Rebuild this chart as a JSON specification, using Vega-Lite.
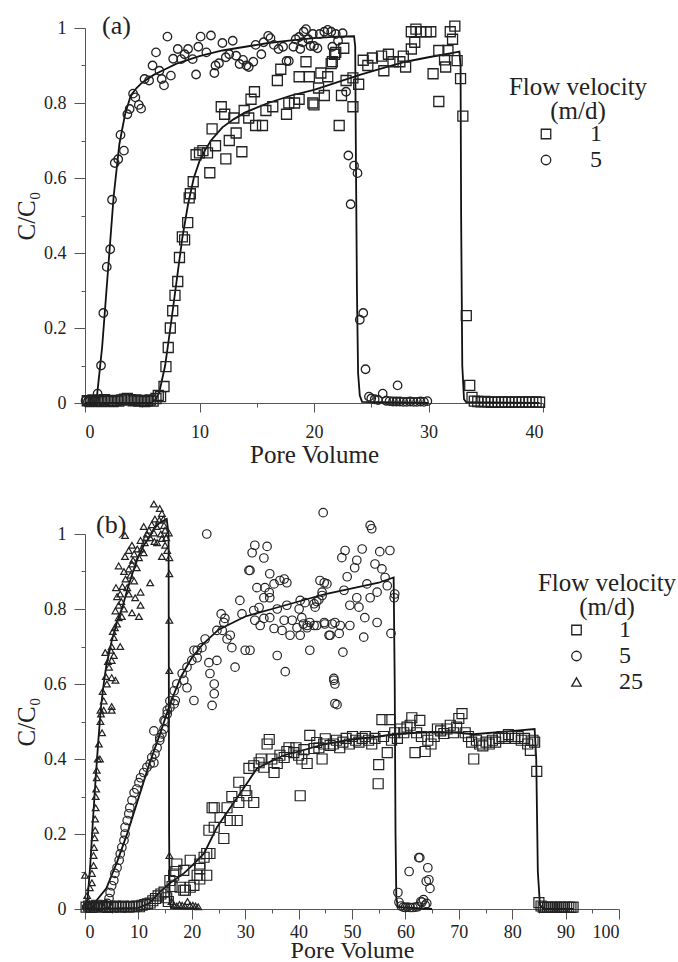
{
  "$schema": "https://vega.github.io/schema/vega-lite/v6.json",
  "padding": {"left": 14, "top": 12, "right": 0, "bottom": 0},
  "spacing": 31,
  "config": {
    "font": "Liberation Serif",
    "view": {"stroke": null},
    "axis": {"grid": false, "domainColor": "#555", "tickColor": "#555", "labelFont": "Liberation Serif", "labelFontSize": 18, "labelColor": "#222", "titleFont": "Liberation Serif", "titleFontSize": 25, "titleFontWeight": "normal", "titleColor": "#222"},
    "legend": {"titleFont": "Liberation Serif", "titleFontSize": 25, "titleFontWeight": "normal", "titleColor": "#222", "titleAlign": "center", "titleAnchor": "middle", "titleLineHeight": 24, "labelFont": "Liberation Serif", "labelFontSize": 24, "labelColor": "#222", "symbolStrokeWidth": 1.3, "symbolSize": 90, "rowPadding": 2, "titlePadding": -2, "symbolStrokeColor": "#222", "symbolFillColor": "transparent"},
    "title": {"font": "Liberation Serif", "fontSize": 26, "fontWeight": "normal", "color": "#222"}
  },
  "resolve": {"scale": {"shape": "independent", "x": "independent", "y": "independent"}, "legend": {"shape": "independent"}},
  "datasets": {
    "a_model": [
      {"v":"5","x":0,"y":0},{"v":"5","x":0.9,"y":0},{"v":"5","x":1.0,"y":0.005},{"v":"5","x":1.5,"y":0.15},{"v":"5","x":2.0,"y":0.35},{"v":"5","x":2.5,"y":0.55},{"v":"5","x":3.0,"y":0.69},{"v":"5","x":3.5,"y":0.77},{"v":"5","x":4.0,"y":0.82},{"v":"5","x":4.5,"y":0.84},{"v":"5","x":5,"y":0.855},{"v":"5","x":6,"y":0.875},{"v":"5","x":7,"y":0.89},{"v":"5","x":8,"y":0.905},{"v":"5","x":10,"y":0.925},{"v":"5","x":12,"y":0.94},{"v":"5","x":14,"y":0.95},{"v":"5","x":16,"y":0.96},{"v":"5","x":18,"y":0.967},{"v":"5","x":20,"y":0.973},{"v":"5","x":22,"y":0.977},{"v":"5","x":23.5,"y":0.978},{"v":"5","x":23.6,"y":0.95},{"v":"5","x":23.65,"y":0.7},{"v":"5","x":23.75,"y":0.3},{"v":"5","x":23.85,"y":0.08},{"v":"5","x":24.0,"y":0.02},{"v":"5","x":24.2,"y":0.003},{"v":"5","x":30,"y":0},
      {"v":"1","x":0,"y":0},{"v":"1","x":5.8,"y":0},{"v":"1","x":6.2,"y":0.01},{"v":"1","x":6.5,"y":0.03},{"v":"1","x":7,"y":0.1},{"v":"1","x":7.5,"y":0.21},{"v":"1","x":8,"y":0.325},{"v":"1","x":8.5,"y":0.44},{"v":"1","x":9,"y":0.53},{"v":"1","x":9.5,"y":0.6},{"v":"1","x":10,"y":0.645},{"v":"1","x":10.5,"y":0.675},{"v":"1","x":11,"y":0.7},{"v":"1","x":12,"y":0.735},{"v":"1","x":13,"y":0.757},{"v":"1","x":14,"y":0.775},{"v":"1","x":16,"y":0.8},{"v":"1","x":18,"y":0.82},{"v":"1","x":20,"y":0.835},{"v":"1","x":22,"y":0.855},{"v":"1","x":24,"y":0.875},{"v":"1","x":26,"y":0.893},{"v":"1","x":28,"y":0.91},{"v":"1","x":30,"y":0.922},{"v":"1","x":32,"y":0.933},{"v":"1","x":32.7,"y":0.937},{"v":"1","x":32.8,"y":0.9},{"v":"1","x":32.85,"y":0.5},{"v":"1","x":32.95,"y":0.1},{"v":"1","x":33.1,"y":0.01},{"v":"1","x":33.3,"y":0.002},{"v":"1","x":39.7,"y":0}
    ],
    "a_pts": [
      {"v":"1","x":0.2,"y":0.006},{"v":"1","x":0.45,"y":0.004},{"v":"1","x":0.7,"y":0.008},{"v":"1","x":0.95,"y":0.005},{"v":"1","x":1.2,"y":0.007},{"v":"1","x":1.45,"y":0.004},{"v":"1","x":1.7,"y":0.009},{"v":"1","x":1.95,"y":0.005},{"v":"1","x":2.2,"y":0.006},{"v":"1","x":2.45,"y":0.004},{"v":"1","x":2.7,"y":0.007},{"v":"1","x":2.95,"y":0.005},{"v":"1","x":3.2,"y":0.008},{"v":"1","x":3.45,"y":0.01},{"v":"1","x":3.7,"y":0.012},{"v":"1","x":3.95,"y":0.009},{"v":"1","x":4.2,"y":0.006},{"v":"1","x":4.45,"y":0.008},{"v":"1","x":4.7,"y":0.005},{"v":"1","x":4.95,"y":0.007},{"v":"1","x":5.2,"y":0.004},{"v":"1","x":5.45,"y":0.006},{"v":"1","x":5.7,"y":0.008},{"v":"1","x":5.95,"y":0.005},
      {"v":"1","x":6.2,"y":0.012},{"v":"1","x":6.4,"y":0.02},{"v":"1","x":6.6,"y":0.017},{"v":"1","x":6.9,"y":0.044},{"v":"1","x":7.07,"y":0.097},{"v":"1","x":7.27,"y":0.148},{"v":"1","x":7.45,"y":0.2},{"v":"1","x":7.66,"y":0.246},{"v":"1","x":7.86,"y":0.287},{"v":"1","x":8.1,"y":0.324},{"v":"1","x":8.25,"y":0.388},{"v":"1","x":8.5,"y":0.443},{"v":"1","x":8.7,"y":0.435},{"v":"1","x":8.97,"y":0.481},{"v":"1","x":9.1,"y":0.547},{"v":"1","x":9.2,"y":0.558},{"v":"1","x":9.45,"y":0.59},{"v":"1","x":9.7,"y":0.662},{"v":"1","x":10.0,"y":0.667},{"v":"1","x":10.3,"y":0.673},{"v":"1","x":10.7,"y":0.667},{"v":"1","x":10.9,"y":0.614},{"v":"1","x":11.1,"y":0.731},{"v":"1","x":11.4,"y":0.686},{"v":"1","x":11.9,"y":0.79},{"v":"1","x":12.2,"y":0.77},{"v":"1","x":12.3,"y":0.651},{"v":"1","x":12.6,"y":0.7},{"v":"1","x":13.0,"y":0.76},{"v":"1","x":13.2,"y":0.72},{"v":"1","x":13.7,"y":0.67},{"v":"1","x":13.9,"y":0.78},{"v":"1","x":14.3,"y":0.76},{"v":"1","x":14.5,"y":0.81},{"v":"1","x":14.8,"y":0.83},{"v":"1","x":14.9,"y":0.74},{"v":"1","x":15.5,"y":0.74},{"v":"1","x":15.8,"y":0.78},{"v":"1","x":16.4,"y":0.79},{"v":"1","x":16.8,"y":0.86},{"v":"1","x":17.1,"y":0.89},{"v":"1","x":17.6,"y":0.77},{"v":"1","x":17.8,"y":0.8},{"v":"1","x":18.3,"y":0.8},{"v":"1","x":18.7,"y":0.87},{"v":"1","x":18.7,"y":0.81},{"v":"1","x":19.3,"y":0.91},{"v":"1","x":19.6,"y":0.87},{"v":"1","x":19.9,"y":0.8},{"v":"1","x":20.0,"y":0.795},{"v":"1","x":20.4,"y":0.84},{"v":"1","x":20.6,"y":0.88},{"v":"1","x":20.9,"y":0.82},{"v":"1","x":21.2,"y":0.87},{"v":"1","x":21.5,"y":0.905},{"v":"1","x":21.6,"y":0.91},{"v":"1","x":21.8,"y":0.93},{"v":"1","x":21.9,"y":0.935},{"v":"1","x":22.2,"y":0.74},{"v":"1","x":22.4,"y":0.82},{"v":"1","x":22.6,"y":0.946},{"v":"1","x":22.8,"y":0.86},{"v":"1","x":23.4,"y":0.867},{"v":"1","x":23.4,"y":0.79},{"v":"1","x":23.9,"y":0.85},{"v":"1","x":24.3,"y":0.914},{"v":"1","x":24.7,"y":0.9},{"v":"1","x":25.1,"y":0.92},{"v":"1","x":25.9,"y":0.925},{"v":"1","x":26.1,"y":0.886},{"v":"1","x":26.5,"y":0.93},{"v":"1","x":26.9,"y":0.91},{"v":"1","x":27.5,"y":0.91},{"v":"1","x":27.8,"y":0.925},{"v":"1","x":28.0,"y":0.896},{"v":"1","x":28.5,"y":0.944},{"v":"1","x":28.5,"y":0.99},{"v":"1","x":28.8,"y":0.962},{"v":"1","x":28.9,"y":0.997},{"v":"1","x":29.3,"y":0.99},{"v":"1","x":29.8,"y":0.99},{"v":"1","x":30.2,"y":0.99},{"v":"1","x":30.4,"y":0.878},{"v":"1","x":30.9,"y":0.804},{"v":"1","x":30.9,"y":0.94},{"v":"1","x":31.4,"y":0.915},{"v":"1","x":31.5,"y":0.896},{"v":"1","x":31.7,"y":0.94},{"v":"1","x":31.9,"y":0.99},{"v":"1","x":32.1,"y":0.97},{"v":"1","x":32.3,"y":1.005},{"v":"1","x":32.5,"y":0.913},{"v":"1","x":32.8,"y":0.865},{"v":"1","x":33.0,"y":0.765},{"v":"1","x":33.3,"y":0.233},{"v":"1","x":33.6,"y":0.047},{"v":"1","x":33.8,"y":0.015},
      {"v":"1","x":34.0,"y":0.005},{"v":"1","x":34.3,"y":0.004},{"v":"1","x":34.6,"y":0.003},{"v":"1","x":34.9,"y":0.004},{"v":"1","x":35.2,"y":0.003},{"v":"1","x":35.5,"y":0.002},{"v":"1","x":35.8,"y":0.003},{"v":"1","x":36.1,"y":0.002},{"v":"1","x":36.4,"y":0.003},{"v":"1","x":36.7,"y":0.002},{"v":"1","x":37.0,"y":0.003},{"v":"1","x":37.3,"y":0.002},{"v":"1","x":37.6,"y":0.003},{"v":"1","x":37.9,"y":0.002},{"v":"1","x":38.2,"y":0.003},{"v":"1","x":38.5,"y":0.002},{"v":"1","x":38.8,"y":0.003},{"v":"1","x":39.1,"y":0.002},{"v":"1","x":39.4,"y":0.003},{"v":"1","x":39.7,"y":0.002},
      {"v":"5","x":0.05,"y":0.006},{"v":"5","x":0.25,"y":0.004},{"v":"5","x":0.45,"y":0.007},{"v":"5","x":0.65,"y":0.005},{"v":"5","x":0.85,"y":0.006},{"v":"5","x":1.1,"y":0.025},{"v":"5","x":1.4,"y":0.1},{"v":"5","x":1.6,"y":0.24},{"v":"5","x":1.9,"y":0.363},{"v":"5","x":2.2,"y":0.41},{"v":"5","x":2.36,"y":0.542},{"v":"5","x":2.6,"y":0.64},{"v":"5","x":2.9,"y":0.65},{"v":"5","x":3.1,"y":0.715},{"v":"5","x":3.4,"y":0.673},{"v":"5","x":3.7,"y":0.77},{"v":"5","x":3.9,"y":0.784},{"v":"5","x":4.2,"y":0.825},{"v":"5","x":4.4,"y":0.815},{"v":"5","x":4.7,"y":0.795},{"v":"5","x":4.9,"y":0.785},{"v":"5","x":5.2,"y":0.864},{"v":"5","x":5.6,"y":0.86},{"v":"5","x":5.9,"y":0.9},{"v":"5","x":6.2,"y":0.935},{"v":"5","x":6.5,"y":0.886},{"v":"5","x":6.7,"y":0.864},{"v":"5","x":6.9,"y":0.847},{"v":"5","x":7.2,"y":0.977},{"v":"5","x":7.5,"y":0.873},{"v":"5","x":7.7,"y":0.918},{"v":"5","x":8.1,"y":0.944},{"v":"5","x":8.4,"y":0.917},{"v":"5","x":8.7,"y":0.93},{"v":"5","x":9.0,"y":0.944},{"v":"5","x":9.4,"y":0.917},{"v":"5","x":9.7,"y":0.876},{"v":"5","x":9.9,"y":0.95},{"v":"5","x":10.1,"y":0.977},{"v":"5","x":10.6,"y":0.935},{"v":"5","x":11.0,"y":0.98},{"v":"5","x":11.3,"y":0.88},{"v":"5","x":11.4,"y":0.9},{"v":"5","x":11.7,"y":0.906},{"v":"5","x":12.0,"y":0.96},{"v":"5","x":12.3,"y":0.922},{"v":"5","x":12.6,"y":0.93},{"v":"5","x":12.9,"y":0.966},{"v":"5","x":13.2,"y":0.926},{"v":"5","x":13.5,"y":0.904},{"v":"5","x":13.8,"y":0.915},{"v":"5","x":14.1,"y":0.9},{"v":"5","x":14.3,"y":0.896},{"v":"5","x":14.7,"y":0.91},{"v":"5","x":14.9,"y":0.955},{"v":"5","x":15.4,"y":0.93},{"v":"5","x":15.6,"y":0.962},{"v":"5","x":16.0,"y":0.979},{"v":"5","x":16.2,"y":0.973},{"v":"5","x":16.5,"y":0.955},{"v":"5","x":16.9,"y":0.944},{"v":"5","x":17.3,"y":0.95},{"v":"5","x":17.6,"y":0.912},{"v":"5","x":17.8,"y":0.912},{"v":"5","x":18.2,"y":0.95},{"v":"5","x":18.4,"y":0.97},{"v":"5","x":18.7,"y":0.976},{"v":"5","x":18.8,"y":0.944},{"v":"5","x":19.0,"y":0.962},{"v":"5","x":19.1,"y":0.99},{"v":"5","x":19.3,"y":0.997},{"v":"5","x":19.5,"y":0.97},{"v":"5","x":19.7,"y":0.952},{"v":"5","x":19.9,"y":0.984},{"v":"5","x":20.0,"y":0.952},{"v":"5","x":20.3,"y":0.946},{"v":"5","x":20.5,"y":0.984},{"v":"5","x":20.9,"y":0.99},{"v":"5","x":21.2,"y":0.995},{"v":"5","x":21.5,"y":0.99},{"v":"5","x":21.6,"y":0.95},{"v":"5","x":21.9,"y":0.984},{"v":"5","x":22.1,"y":0.966},{"v":"5","x":22.5,"y":0.986},{"v":"5","x":22.8,"y":0.83},{"v":"5","x":23.0,"y":0.66},{"v":"5","x":23.2,"y":0.53},{"v":"5","x":23.5,"y":0.633},{"v":"5","x":23.8,"y":0.613},{"v":"5","x":24.0,"y":0.222},{"v":"5","x":24.3,"y":0.24},{"v":"5","x":24.5,"y":0.09},{"v":"5","x":24.8,"y":0.017},{"v":"5","x":25.0,"y":0.012},{"v":"5","x":25.3,"y":0.01},{"v":"5","x":25.6,"y":0.008},{"v":"5","x":26.0,"y":0.025},{"v":"5","x":26.3,"y":0.006},{"v":"5","x":26.6,"y":0.005},{"v":"5","x":26.9,"y":0.004},{"v":"5","x":27.2,"y":0.004},{"v":"5","x":27.3,"y":0.047},{"v":"5","x":27.5,"y":0.004},{"v":"5","x":27.8,"y":0.003},{"v":"5","x":28.1,"y":0.003},{"v":"5","x":28.4,"y":0.004},{"v":"5","x":28.7,"y":0.003},{"v":"5","x":29.0,"y":0.003},{"v":"5","x":29.3,"y":0.004},{"v":"5","x":29.6,"y":0.003},{"v":"5","x":29.9,"y":0.005}
    ],
    "b_model": [
      {"v":"25","x":0,"y":0},{"v":"25","x":0.5,"y":0.03},{"v":"25","x":1.0,"y":0.12},{"v":"25","x":1.5,"y":0.24},{"v":"25","x":2.0,"y":0.35},{"v":"25","x":2.5,"y":0.45},{"v":"25","x":3.0,"y":0.54},{"v":"25","x":3.5,"y":0.6},{"v":"25","x":4,"y":0.65},{"v":"25","x":5,"y":0.715},{"v":"25","x":6,"y":0.765},{"v":"25","x":7,"y":0.805},{"v":"25","x":8,"y":0.855},{"v":"25","x":9,"y":0.9},{"v":"25","x":10,"y":0.94},{"v":"25","x":11,"y":0.97},{"v":"25","x":12,"y":0.99},{"v":"25","x":13,"y":1.015},{"v":"25","x":14,"y":1.03},{"v":"25","x":15.3,"y":1.04},{"v":"25","x":15.65,"y":1.0},{"v":"25","x":15.7,"y":0.6},{"v":"25","x":15.75,"y":0.2},{"v":"25","x":15.85,"y":0.02},{"v":"25","x":16.1,"y":0.003},{"v":"25","x":21.5,"y":0},
      {"v":"5","x":0,"y":0},{"v":"5","x":1.5,"y":0.005},{"v":"5","x":2,"y":0.02},{"v":"5","x":4,"y":0.055},{"v":"5","x":6,"y":0.125},{"v":"5","x":8,"y":0.205},{"v":"5","x":10,"y":0.295},{"v":"5","x":12,"y":0.385},{"v":"5","x":14,"y":0.465},{"v":"5","x":16,"y":0.55},{"v":"5","x":18,"y":0.62},{"v":"5","x":20,"y":0.67},{"v":"5","x":22,"y":0.705},{"v":"5","x":25,"y":0.745},{"v":"5","x":30,"y":0.78},{"v":"5","x":35,"y":0.8},{"v":"5","x":40,"y":0.82},{"v":"5","x":45,"y":0.84},{"v":"5","x":50,"y":0.855},{"v":"5","x":55,"y":0.87},{"v":"5","x":57.8,"y":0.884},{"v":"5","x":58.0,"y":0.6},{"v":"5","x":58.15,"y":0.2},{"v":"5","x":58.3,"y":0.03},{"v":"5","x":58.6,"y":0.005},{"v":"5","x":65,"y":0},
      {"v":"1","x":0,"y":0},{"v":"1","x":10,"y":0.003},{"v":"1","x":12,"y":0.015},{"v":"1","x":14,"y":0.045},{"v":"1","x":16,"y":0.07},{"v":"1","x":18.5,"y":0.095},{"v":"1","x":20,"y":0.115},{"v":"1","x":22.3,"y":0.148},{"v":"1","x":24.7,"y":0.218},{"v":"1","x":27.2,"y":0.27},{"v":"1","x":29.8,"y":0.324},{"v":"1","x":32.2,"y":0.375},{"v":"1","x":35,"y":0.395},{"v":"1","x":37.3,"y":0.41},{"v":"1","x":40,"y":0.42},{"v":"1","x":45,"y":0.44},{"v":"1","x":50,"y":0.452},{"v":"1","x":55,"y":0.46},{"v":"1","x":58,"y":0.466},{"v":"1","x":62,"y":0.47},{"v":"1","x":66,"y":0.472},{"v":"1","x":70,"y":0.47},{"v":"1","x":72.8,"y":0.466},{"v":"1","x":84.2,"y":0.48},{"v":"1","x":84.5,"y":0.4},{"v":"1","x":84.8,"y":0.1},{"v":"1","x":85.2,"y":0.01},{"v":"1","x":86,"y":0},{"v":"1","x":91.5,"y":0}
    ],
    "b_pts": [
      {"v":"25","x":0,"y":0.09},{"v":"25","x":0.2,"y":0.01},{"v":"25","x":0.4,"y":0.036},{"v":"25","x":0.6,"y":0.02},{"v":"25","x":0.9,"y":0.057},{"v":"25","x":1.0,"y":0.01},{"v":"25","x":1.3,"y":0.07},{"v":"25","x":1.3,"y":0.095},{"v":"25","x":1.6,"y":0.116},{"v":"25","x":1.6,"y":0.143},{"v":"25","x":1.7,"y":0.164},{"v":"25","x":1.8,"y":0.19},{"v":"25","x":1.9,"y":0.21},{"v":"25","x":1.9,"y":0.24},{"v":"25","x":2.0,"y":0.27},{"v":"25","x":2.0,"y":0.3},{"v":"25","x":2.1,"y":0.32},{"v":"25","x":2.2,"y":0.35},{"v":"25","x":2.2,"y":0.37},{"v":"25","x":2.4,"y":0.4},{"v":"25","x":2.8,"y":0.4},{"v":"25","x":2.6,"y":0.44},{"v":"25","x":3.2,"y":0.47},{"v":"25","x":2.9,"y":0.5},{"v":"25","x":3.5,"y":0.53},{"v":"25","x":5.0,"y":0.53},{"v":"25","x":2.9,"y":0.53},{"v":"25","x":3.5,"y":0.555},{"v":"25","x":5.0,"y":0.54},{"v":"25","x":4.1,"y":0.6},{"v":"25","x":5.0,"y":0.617},{"v":"25","x":5.7,"y":0.61},{"v":"25","x":4.5,"y":0.645},{"v":"25","x":5.0,"y":0.663},{"v":"25","x":5.4,"y":0.676},{"v":"25","x":3.8,"y":0.684},{"v":"25","x":5.0,"y":0.7},{"v":"25","x":5.4,"y":0.724},{"v":"25","x":6.6,"y":0.7},{"v":"25","x":6.0,"y":0.76},{"v":"25","x":6.3,"y":0.777},{"v":"25","x":6.9,"y":0.78},{"v":"25","x":5.7,"y":0.795},{"v":"25","x":6.3,"y":0.81},{"v":"25","x":7.3,"y":0.8},{"v":"25","x":6.0,"y":0.833},{"v":"25","x":6.6,"y":0.84},{"v":"25","x":5.8,"y":0.857},{"v":"25","x":7.9,"y":0.857},{"v":"25","x":8.2,"y":0.84},{"v":"25","x":8.8,"y":0.79},{"v":"25","x":10.1,"y":0.78},{"v":"25","x":10.4,"y":0.81},{"v":"25","x":9.4,"y":0.83},{"v":"25","x":10.4,"y":0.845},{"v":"25","x":12.2,"y":0.87},{"v":"25","x":9.2,"y":0.875},{"v":"25","x":7.3,"y":0.9},{"v":"25","x":8.2,"y":0.907},{"v":"25","x":8.8,"y":0.92},{"v":"25","x":9.7,"y":0.91},{"v":"25","x":6.3,"y":0.915},{"v":"25","x":7.5,"y":0.94},{"v":"25","x":8.2,"y":0.956},{"v":"25","x":8.8,"y":0.97},{"v":"25","x":9.2,"y":0.947},{"v":"25","x":10.1,"y":0.937},{"v":"25","x":11.0,"y":0.95},{"v":"25","x":7.5,"y":0.996},{"v":"25","x":10.4,"y":0.983},{"v":"25","x":11.2,"y":0.977},{"v":"25","x":11.6,"y":1.0},{"v":"25","x":12.2,"y":0.99},{"v":"25","x":12.9,"y":1.003},{"v":"25","x":11.0,"y":1.02},{"v":"25","x":12.5,"y":1.025},{"v":"25","x":13.1,"y":1.04},{"v":"25","x":12.9,"y":1.08},{"v":"25","x":14.0,"y":1.068},{"v":"25","x":14.4,"y":1.055},{"v":"25","x":13.9,"y":1.037},{"v":"25","x":14.8,"y":1.023},{"v":"25","x":15.0,"y":1.01},{"v":"25","x":15.7,"y":1.003},{"v":"25","x":14.4,"y":0.94},{"v":"25","x":15.0,"y":0.97},{"v":"25","x":15.4,"y":0.956},{"v":"25","x":14.4,"y":0.988},{"v":"25","x":13.5,"y":0.977},{"v":"25","x":15.8,"y":0.937},{"v":"25","x":15.8,"y":0.894},{"v":"25","x":15.8,"y":0.77},{"v":"25","x":15.8,"y":0.636},{"v":"25","x":15.8,"y":0.143},{"v":"25","x":3.0,"y":0.52},{"v":"25","x":3.3,"y":0.58},{"v":"25","x":3.9,"y":0.62},{"v":"25","x":4.3,"y":0.66},{"v":"25","x":4.8,"y":0.69},{"v":"25","x":5.2,"y":0.74},{"v":"25","x":5.6,"y":0.75},{"v":"25","x":6.8,"y":0.82},{"v":"25","x":7.0,"y":0.86},{"v":"25","x":7.6,"y":0.88},{"v":"25","x":8.5,"y":0.89},{"v":"25","x":9.0,"y":0.93},{"v":"25","x":9.8,"y":0.96},{"v":"25","x":10.6,"y":0.96},{"v":"25","x":11.4,"y":0.99},{"v":"25","x":12.0,"y":1.01},{"v":"25","x":13.4,"y":1.02},{"v":"25","x":14.2,"y":1.0},{"v":"25","x":14.7,"y":1.04},{"v":"25","x":15.2,"y":0.99},{"v":"25","x":13.0,"y":0.98},{"v":"25","x":16.2,"y":0.02},{"v":"25","x":16.7,"y":0.01},{"v":"25","x":17.2,"y":0.008},{"v":"25","x":17.7,"y":0.012},{"v":"25","x":18.2,"y":0.01},{"v":"25","x":18.7,"y":0.008},{"v":"25","x":19.2,"y":0.02},{"v":"25","x":19.7,"y":0.01},{"v":"25","x":20.2,"y":0.01},{"v":"25","x":20.7,"y":0.008},{"v":"25","x":21.2,"y":0.006},
      {"v":"5","x":0.3,"y":0.005},{"v":"5","x":0.8,"y":0.008},{"v":"5","x":1.3,"y":0.006},{"v":"5","x":1.8,"y":0.01},{"v":"5","x":2.3,"y":0.008},{"v":"5","x":2.8,"y":0.006},{"v":"5","x":3.3,"y":0.01},{"v":"5","x":3.8,"y":0.012},{"v":"5","x":4.2,"y":0.015},{"v":"5","x":4.5,"y":0.028},{"v":"5","x":4.7,"y":0.044},{"v":"5","x":5.0,"y":0.062},{"v":"5","x":5.4,"y":0.076},{"v":"5","x":5.6,"y":0.095},{"v":"5","x":6.0,"y":0.11},{"v":"5","x":6.4,"y":0.13},{"v":"5","x":6.6,"y":0.147},{"v":"5","x":6.9,"y":0.164},{"v":"5","x":7.3,"y":0.183},{"v":"5","x":7.5,"y":0.2},{"v":"5","x":7.5,"y":0.218},{"v":"5","x":7.9,"y":0.236},{"v":"5","x":8.2,"y":0.254},{"v":"5","x":8.4,"y":0.27},{"v":"5","x":8.8,"y":0.29},{"v":"5","x":9.2,"y":0.31},{"v":"5","x":9.7,"y":0.32},{"v":"5","x":10.1,"y":0.337},{"v":"5","x":10.4,"y":0.35},{"v":"5","x":11.0,"y":0.364},{"v":"5","x":11.6,"y":0.378},{"v":"5","x":12.2,"y":0.387},{"v":"5","x":12.9,"y":0.39},{"v":"5","x":12.5,"y":0.404},{"v":"5","x":13.1,"y":0.414},{"v":"5","x":13.5,"y":0.43},{"v":"5","x":12.9,"y":0.475},{"v":"5","x":14.0,"y":0.45},{"v":"5","x":14.4,"y":0.467},{"v":"5","x":14.8,"y":0.48},{"v":"5","x":15.0,"y":0.5},{"v":"5","x":15.4,"y":0.52},{"v":"5","x":15.9,"y":0.537},{"v":"5","x":16.7,"y":0.547},{"v":"5","x":14.0,"y":0.457},{"v":"5","x":14.8,"y":0.503},{"v":"5","x":15.4,"y":0.53},{"v":"5","x":15.9,"y":0.555},{"v":"5","x":16.7,"y":0.582},{"v":"5","x":17.2,"y":0.6},{"v":"5","x":18.2,"y":0.628},{"v":"5","x":19.1,"y":0.645},{"v":"5","x":20.0,"y":0.663},{"v":"5","x":20.4,"y":0.556},{"v":"5","x":21.0,"y":0.69},{"v":"5","x":21.9,"y":0.697},{"v":"5","x":22.5,"y":0.72},{"v":"5","x":23.4,"y":0.628},{"v":"5","x":24.2,"y":0.6},{"v":"5","x":23.8,"y":0.543},{"v":"5","x":24.2,"y":0.574},{"v":"5","x":23.2,"y":0.657},{"v":"5","x":24.7,"y":0.663},{"v":"5","x":25.7,"y":0.743},{"v":"5","x":25.5,"y":0.787},{"v":"5","x":26.6,"y":0.72},{"v":"5","x":27.5,"y":0.697},{"v":"5","x":28.1,"y":0.645},{"v":"5","x":29.0,"y":0.823},{"v":"5","x":29.4,"y":0.787},{"v":"5","x":30.0,"y":0.69},{"v":"5","x":30.9,"y":0.69},{"v":"5","x":30.9,"y":0.903},{"v":"5","x":31.3,"y":0.95},{"v":"5","x":31.8,"y":0.97},{"v":"5","x":33.5,"y":0.936},{"v":"5","x":34.1,"y":0.967},{"v":"5","x":31.8,"y":0.77},{"v":"5","x":32.8,"y":0.756},{"v":"5","x":31.6,"y":0.796},{"v":"5","x":32.6,"y":0.804},{"v":"5","x":33.5,"y":0.775},{"v":"5","x":34.6,"y":0.777},{"v":"5","x":35.4,"y":0.748},{"v":"5","x":36.0,"y":0.676},{"v":"5","x":37.5,"y":0.633},{"v":"5","x":36.9,"y":0.743},{"v":"5","x":38.4,"y":0.73},{"v":"5","x":39.7,"y":0.75},{"v":"5","x":40.3,"y":0.73},{"v":"5","x":40.9,"y":0.76},{"v":"5","x":42.1,"y":0.764},{"v":"5","x":42.1,"y":0.69},{"v":"5","x":43.4,"y":0.756},{"v":"5","x":44.4,"y":0.836},{"v":"5","x":44.8,"y":0.87},{"v":"5","x":44.0,"y":0.876},{"v":"5","x":44.8,"y":0.764},{"v":"5","x":45.9,"y":0.73},{"v":"5","x":46.8,"y":0.764},{"v":"5","x":33.5,"y":0.83},{"v":"5","x":34.6,"y":0.83},{"v":"5","x":34.6,"y":0.894},{"v":"5","x":36.5,"y":0.876},{"v":"5","x":37.3,"y":0.88},{"v":"5","x":37.8,"y":0.87},{"v":"5","x":35.4,"y":0.867},{"v":"5","x":33.7,"y":0.857},{"v":"5","x":32.2,"y":0.857},{"v":"5","x":30.7,"y":0.903},{"v":"5","x":22.8,"y":1.0},{"v":"5","x":26.0,"y":0.764},{"v":"5","x":27.2,"y":0.73},{"v":"5","x":26.2,"y":0.775},{"v":"5","x":24.7,"y":0.743},{"v":"5","x":18.5,"y":0.61},{"v":"5","x":19.1,"y":0.59},{"v":"5","x":16.9,"y":0.556},{"v":"5","x":20.4,"y":0.69},{"v":"5","x":21.0,"y":0.67},{"v":"5","x":34.5,"y":0.844},{"v":"5","x":37.3,"y":0.77},{"v":"5","x":38.8,"y":0.77},{"v":"5","x":40.1,"y":0.8},{"v":"5","x":41.6,"y":0.75},{"v":"5","x":42.9,"y":0.814},{"v":"5","x":43.8,"y":0.825},{"v":"5","x":41.2,"y":0.817},{"v":"5","x":40.3,"y":0.823},{"v":"5","x":37.8,"y":0.81},{"v":"5","x":36.0,"y":0.8},{"v":"5","x":46.6,"y":0.61},{"v":"5","x":46.8,"y":0.548},{"v":"5","x":46.8,"y":0.6},{"v":"5","x":44.6,"y":1.057},{"v":"5","x":53.4,"y":1.023},{"v":"5","x":53.7,"y":1.014},{"v":"5","x":48.7,"y":0.956},{"v":"5","x":51.9,"y":0.96},{"v":"5","x":55.2,"y":0.953},{"v":"5","x":57.1,"y":0.956},{"v":"5","x":48.1,"y":0.937},{"v":"5","x":50.9,"y":0.93},{"v":"5","x":54.3,"y":0.92},{"v":"5","x":50.5,"y":0.91},{"v":"5","x":55.6,"y":0.907},{"v":"5","x":49.1,"y":0.886},{"v":"5","x":56.2,"y":0.884},{"v":"5","x":45.3,"y":0.867},{"v":"5","x":52.8,"y":0.867},{"v":"5","x":56.6,"y":0.862},{"v":"5","x":48.5,"y":0.85},{"v":"5","x":44.4,"y":0.845},{"v":"5","x":50.9,"y":0.83},{"v":"5","x":54.7,"y":0.845},{"v":"5","x":49.6,"y":0.81},{"v":"5","x":51.3,"y":0.805},{"v":"5","x":53.4,"y":0.83},{"v":"5","x":58.0,"y":0.84},{"v":"5","x":57.9,"y":0.83},{"v":"5","x":43.4,"y":0.82},{"v":"5","x":43.1,"y":0.805},{"v":"5","x":52.4,"y":0.777},{"v":"5","x":54.7,"y":0.764},{"v":"5","x":40.6,"y":0.777},{"v":"5","x":41.6,"y":0.756},{"v":"5","x":42.9,"y":0.756},{"v":"5","x":44.9,"y":0.76},{"v":"5","x":46.3,"y":0.76},{"v":"5","x":47.8,"y":0.756},{"v":"5","x":49.6,"y":0.756},{"v":"5","x":45.7,"y":0.73},{"v":"5","x":47.6,"y":0.735},{"v":"5","x":52.2,"y":0.725},{"v":"5","x":57.3,"y":0.735},{"v":"5","x":48.3,"y":0.685},{"v":"5","x":46.6,"y":0.615},{"v":"5","x":47.2,"y":0.545},{"v":"5","x":58.6,"y":0.044},{"v":"5","x":58.8,"y":0.018},{"v":"5","x":59.2,"y":0.008},{"v":"5","x":59.6,"y":0.005},{"v":"5","x":60.0,"y":0.004},{"v":"5","x":60.4,"y":0.005},{"v":"5","x":60.7,"y":0.1},{"v":"5","x":60.9,"y":0.004},{"v":"5","x":61.4,"y":0.004},{"v":"5","x":61.9,"y":0.005},{"v":"5","x":62.3,"y":0.006},{"v":"5","x":62.5,"y":0.137},{"v":"5","x":62.7,"y":0.137},{"v":"5","x":62.9,"y":0.02},{"v":"5","x":63.1,"y":0.018},{"v":"5","x":63.4,"y":0.025},{"v":"5","x":63.7,"y":0.01},{"v":"5","x":63.9,"y":0.074},{"v":"5","x":64.2,"y":0.11},{"v":"5","x":64.4,"y":0.078},{"v":"5","x":64.6,"y":0.055},{"v":"5","x":64.0,"y":0.015},
      {"v":"1","x":0.2,"y":0.005},{"v":"1","x":0.7,"y":0.008},{"v":"1","x":1.2,"y":0.004},{"v":"1","x":1.7,"y":0.006},{"v":"1","x":2.2,"y":0.01},{"v":"1","x":2.7,"y":0.005},{"v":"1","x":3.2,"y":0.008},{"v":"1","x":3.7,"y":0.006},{"v":"1","x":4.2,"y":0.004},{"v":"1","x":4.7,"y":0.007},{"v":"1","x":5.2,"y":0.005},{"v":"1","x":5.7,"y":0.008},{"v":"1","x":6.2,"y":0.006},{"v":"1","x":6.7,"y":0.005},{"v":"1","x":7.2,"y":0.008},{"v":"1","x":7.7,"y":0.006},{"v":"1","x":8.2,"y":0.005},{"v":"1","x":8.7,"y":0.007},{"v":"1","x":9.2,"y":0.006},{"v":"1","x":9.7,"y":0.008},{"v":"1","x":10.2,"y":0.006},{"v":"1","x":10.7,"y":0.01},{"v":"1","x":11.2,"y":0.012},{"v":"1","x":11.7,"y":0.014},{"v":"1","x":12.2,"y":0.016},{"v":"1","x":12.7,"y":0.022},{"v":"1","x":13.2,"y":0.028},{"v":"1","x":13.7,"y":0.035},{"v":"1","x":14.2,"y":0.04},{"v":"1","x":14.8,"y":0.045},{"v":"1","x":15.3,"y":0.03},{"v":"1","x":15.6,"y":0.02},{"v":"1","x":15.9,"y":0.076},{"v":"1","x":16.3,"y":0.06},{"v":"1","x":16.6,"y":0.09},{"v":"1","x":17.2,"y":0.12},{"v":"1","x":17.0,"y":0.1},{"v":"1","x":17.8,"y":0.058},{"v":"1","x":18.8,"y":0.05},{"v":"1","x":18.5,"y":0.05},{"v":"1","x":20.4,"y":0.063},{"v":"1","x":18.5,"y":0.103},{"v":"1","x":19.7,"y":0.13},{"v":"1","x":19.7,"y":0.058},{"v":"1","x":21.0,"y":0.09},{"v":"1","x":22.8,"y":0.09},{"v":"1","x":21.5,"y":0.12},{"v":"1","x":21.5,"y":0.08},{"v":"1","x":21.5,"y":0.108},{"v":"1","x":22.3,"y":0.138},{"v":"1","x":22.8,"y":0.148},{"v":"1","x":23.4,"y":0.148},{"v":"1","x":23.2,"y":0.21},{"v":"1","x":24.2,"y":0.218},{"v":"1","x":26.0,"y":0.188},{"v":"1","x":24.2,"y":0.27},{"v":"1","x":23.8,"y":0.27},{"v":"1","x":25.3,"y":0.244},{"v":"1","x":26.6,"y":0.27},{"v":"1","x":27.2,"y":0.236},{"v":"1","x":28.5,"y":0.236},{"v":"1","x":27.5,"y":0.3},{"v":"1","x":28.8,"y":0.284},{"v":"1","x":30.3,"y":0.302},{"v":"1","x":31.6,"y":0.284},{"v":"1","x":30.0,"y":0.316},{"v":"1","x":28.8,"y":0.338},{"v":"1","x":30.7,"y":0.375},{"v":"1","x":31.6,"y":0.382},{"v":"1","x":32.6,"y":0.39},{"v":"1","x":33.5,"y":0.378},{"v":"1","x":34.1,"y":0.44},{"v":"1","x":34.5,"y":0.452},{"v":"1","x":35.4,"y":0.364},{"v":"1","x":36.0,"y":0.388},{"v":"1","x":37.3,"y":0.404},{"v":"1","x":38.2,"y":0.43},{"v":"1","x":39.1,"y":0.417},{"v":"1","x":40.3,"y":0.302},{"v":"1","x":40.6,"y":0.4},{"v":"1","x":41.6,"y":0.388},{"v":"1","x":42.1,"y":0.463},{"v":"1","x":42.9,"y":0.428},{"v":"1","x":43.4,"y":0.444},{"v":"1","x":44.4,"y":0.4},{"v":"1","x":45.0,"y":0.454},{"v":"1","x":45.9,"y":0.436},{"v":"1","x":33.0,"y":0.4},{"v":"1","x":35.0,"y":0.4},{"v":"1","x":36.5,"y":0.41},{"v":"1","x":37.8,"y":0.42},{"v":"1","x":39.5,"y":0.43},{"v":"1","x":40.0,"y":0.41},{"v":"1","x":41.0,"y":0.425},{"v":"1","x":43.8,"y":0.43},{"v":"1","x":44.7,"y":0.44},{"v":"1","x":46.5,"y":0.44},{"v":"1","x":47.1,"y":0.45},{"v":"1","x":47.7,"y":0.43},{"v":"1","x":48.3,"y":0.445},{"v":"1","x":48.9,"y":0.455},{"v":"1","x":49.5,"y":0.44},{"v":"1","x":50.1,"y":0.46},{"v":"1","x":50.7,"y":0.45},{"v":"1","x":51.3,"y":0.445},{"v":"1","x":51.9,"y":0.455},{"v":"1","x":52.5,"y":0.46},{"v":"1","x":53.1,"y":0.45},{"v":"1","x":53.7,"y":0.44},{"v":"1","x":54.3,"y":0.455},{"v":"1","x":54.9,"y":0.334},{"v":"1","x":55.0,"y":0.385},{"v":"1","x":55.6,"y":0.505},{"v":"1","x":55.9,"y":0.46},{"v":"1","x":56.6,"y":0.417},{"v":"1","x":57.1,"y":0.505},{"v":"1","x":57.4,"y":0.45},{"v":"1","x":58.0,"y":0.47},{"v":"1","x":58.5,"y":0.455},{"v":"1","x":59.1,"y":0.48},{"v":"1","x":59.7,"y":0.47},{"v":"1","x":60.3,"y":0.485},{"v":"1","x":60.9,"y":0.49},{"v":"1","x":61.2,"y":0.51},{"v":"1","x":61.8,"y":0.417},{"v":"1","x":62.1,"y":0.47},{"v":"1","x":62.7,"y":0.503},{"v":"1","x":63.0,"y":0.46},{"v":"1","x":63.7,"y":0.42},{"v":"1","x":64.2,"y":0.45},{"v":"1","x":64.8,"y":0.44},{"v":"1","x":65.4,"y":0.46},{"v":"1","x":66.0,"y":0.48},{"v":"1","x":66.6,"y":0.475},{"v":"1","x":67.2,"y":0.468},{"v":"1","x":67.8,"y":0.48},{"v":"1","x":68.4,"y":0.49},{"v":"1","x":69.0,"y":0.47},{"v":"1","x":69.6,"y":0.485},{"v":"1","x":70.0,"y":0.508},{"v":"1","x":70.6,"y":0.521},{"v":"1","x":71.2,"y":0.47},{"v":"1","x":71.8,"y":0.46},{"v":"1","x":72.4,"y":0.445},{"v":"1","x":72.8,"y":0.4},{"v":"1","x":73.3,"y":0.45},{"v":"1","x":73.9,"y":0.44},{"v":"1","x":74.5,"y":0.435},{"v":"1","x":75.1,"y":0.445},{"v":"1","x":75.7,"y":0.44},{"v":"1","x":76.3,"y":0.45},{"v":"1","x":76.9,"y":0.445},{"v":"1","x":77.5,"y":0.455},{"v":"1","x":78.1,"y":0.46},{"v":"1","x":78.7,"y":0.455},{"v":"1","x":79.3,"y":0.465},{"v":"1","x":79.9,"y":0.46},{"v":"1","x":80.5,"y":0.455},{"v":"1","x":81.1,"y":0.46},{"v":"1","x":81.7,"y":0.45},{"v":"1","x":82.3,"y":0.455},{"v":"1","x":82.9,"y":0.44},{"v":"1","x":83.4,"y":0.423},{"v":"1","x":83.9,"y":0.45},{"v":"1","x":84.2,"y":0.445},{"v":"1","x":84.6,"y":0.367},{"v":"1","x":85.0,"y":0.017},{"v":"1","x":85.4,"y":0.008},{"v":"1","x":85.8,"y":0.005},{"v":"1","x":86.2,"y":0.004},{"v":"1","x":86.6,"y":0.005},{"v":"1","x":87.0,"y":0.004},{"v":"1","x":87.4,"y":0.005},{"v":"1","x":87.8,"y":0.004},{"v":"1","x":88.2,"y":0.005},{"v":"1","x":88.6,"y":0.004},{"v":"1","x":89.0,"y":0.005},{"v":"1","x":89.4,"y":0.004},{"v":"1","x":89.8,"y":0.005},{"v":"1","x":90.2,"y":0.004},{"v":"1","x":90.6,"y":0.005},{"v":"1","x":91.0,"y":0.004},{"v":"1","x":91.4,"y":0.005}
    ]
  },
  "vconcat": [
    {
      "width": 458,
      "height": 375,
      "title": {"text": "(a)", "anchor": "start", "frame": "group", "dx": 17, "offset": -41, "baseline": "alphabetic"},
      "encoding": {
        "x": {"field": "x", "type": "quantitative", "scale": {"domain": [0, 40], "nice": false},
          "axis": {"title": "Pore Volume", "values": [0,5,10,15,20,25,30,35,40], "labelExpr": "datum.value % 10 == 0 ? datum.label : ''", "tickSize": {"condition": {"test": "datum.value % 10 == 0", "value": 9}, "value": 4}, "labelPadding": 11, "titlePadding": 1}},
        "y": {"field": "y", "type": "quantitative", "scale": {"domain": [0, 1], "nice": false},
          "axis": {"title": "C/C₀", "values": [0,0.1,0.2,0.3,0.4,0.5,0.6,0.7,0.8,0.9,1], "format": "~g", "labelExpr": "abs(datum.value*5 - round(datum.value*5)) < 0.001 ? datum.label : ''", "tickSize": {"condition": {"test": "abs(datum.value*5 - round(datum.value*5)) < 0.001", "value": 11}, "value": 4}, "labelPadding": 8, "titlePadding": 4}}
      },
      "layer": [
        {
          "data": {"name": "a_model"},
          "mark": {"type": "line", "color": "#111", "strokeWidth": 1.8},
          "encoding": {"detail": {"field": "v"}}
        },
        {
          "data": {"name": "a_pts"},
          "transform": [{"filter": "datum.v == '1'"}],
          "mark": {"type": "point", "filled": false, "color": "#222", "strokeWidth": 1.3, "opacity": 1, "size": 100},
          "encoding": {
            "shape": {"field": "v", "type": "nominal", "scale": {"domain": ["1", "5"], "range": ["square", "circle"]},
              "legend": {"title": ["Flow velocity", "(m/d)"], "orient": "none", "legendX": 424, "legendY": 47, "symbolOffset": -19, "labelOffset": 32}}
          }
        },
        {
          "data": {"name": "a_pts"},
          "transform": [{"filter": "datum.v == '5'"}],
          "mark": {"type": "point", "filled": false, "color": "#222", "strokeWidth": 1.3, "opacity": 1, "size": 72},
          "encoding": {
            "shape": {"field": "v", "type": "nominal"}
          }
        }
      ]
    },
    {
      "width": 534,
      "height": 375,
      "title": {"text": "(b)", "anchor": "start", "frame": "group", "dx": 11, "offset": -60, "baseline": "alphabetic"},
      "encoding": {
        "x": {"field": "x", "type": "quantitative", "scale": {"domain": [0, 100], "nice": false},
          "axis": {"title": "Pore Volume", "titleFontSize": 24, "values": [0,5,10,15,20,25,30,35,40,45,50,55,60,65,70,75,80,85,90,95,100], "labelExpr": "datum.value % 10 == 0 ? datum.label : ''", "tickSize": {"condition": {"test": "datum.value % 10 == 0", "value": 10}, "value": 4}, "labelPadding": 4, "titlePadding": -3}},
        "y": {"field": "y", "type": "quantitative", "scale": {"domain": [0, 1], "nice": false},
          "axis": {"title": "C/C₀", "values": [0,0.1,0.2,0.3,0.4,0.5,0.6,0.7,0.8,0.9,1], "format": "~g", "labelExpr": "abs(datum.value*5 - round(datum.value*5)) < 0.001 ? datum.label : ''", "tickSize": {"condition": {"test": "abs(datum.value*5 - round(datum.value*5)) < 0.001", "value": 11}, "value": 4}, "labelPadding": 8, "titlePadding": 4}}
      },
      "layer": [
        {
          "data": {"name": "b_model"},
          "mark": {"type": "line", "color": "#111", "strokeWidth": 1.8},
          "encoding": {"detail": {"field": "v"}}
        },
        {
          "data": {"name": "b_pts"},
          "transform": [{"filter": "datum.v == '1'"}],
          "mark": {"type": "point", "filled": false, "color": "#222", "strokeWidth": 1.2, "opacity": 1, "size": 100},
          "encoding": {
            "shape": {"field": "v", "type": "nominal", "scale": {"domain": ["1", "5", "25"], "range": ["square", "circle", "triangle-up"]},
              "legend": {"title": ["Flow velocity", "(m/d)"], "orient": "none", "legendX": 453, "legendY": 37, "symbolOffset": -6.5, "labelOffset": 30.5}}
          }
        },
        {
          "data": {"name": "b_pts"},
          "transform": [{"filter": "datum.v == '5'"}],
          "mark": {"type": "point", "filled": false, "color": "#222", "strokeWidth": 1.2, "opacity": 1, "size": 72},
          "encoding": {"shape": {"field": "v", "type": "nominal"}}
        },
        {
          "data": {"name": "b_pts"},
          "transform": [{"filter": "datum.v == '25'"}],
          "mark": {"type": "point", "filled": false, "color": "#222", "strokeWidth": 1.2, "opacity": 1, "size": 45},
          "encoding": {"shape": {"field": "v", "type": "nominal"}}
        }
      ]
    }
  ]
}
